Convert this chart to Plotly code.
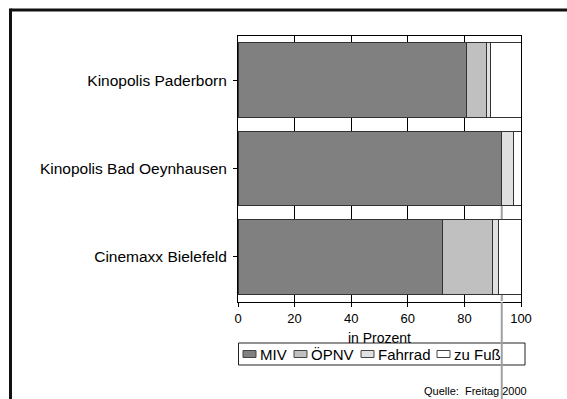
import plotly.graph_objects as go

# ---- data ----
categories = ["Kinopolis Paderborn", "Kinopolis Bad Oeynhausen", "Cinemaxx Bielefeld"]
series_names = ["MIV", "ÖPNV", "Fahrrad", "zu Fuß"]
miv = [80.7, 93.2, 72.1]
oepnv = [7.0, 0.0, 17.8]
fahrrad = [1.4, 4.2, 2.1]
zu_fuss = [10.9, 2.6, 8.0]
x_ticks = [0, 20, 40, 60, 80, 100]
x_title = "in Prozent"
source_text = "Quelle:  Freitag 2000"

series_values = [miv, oepnv, fahrrad, zu_fuss]
colors = ["#808080", "#c0c0c0", "#e0e0e0", "#ffffff"]

# ---- layout geometry (pixels) ----
W, H = 567, 399
L, R, T, B = 238, 46, 36, 97
PW, PH = W - L - R, H - T - B
BARGAP = 0.154
FONT = "Liberation Sans, Arial, sans-serif"


def px2x(px):
    return (px - L) / PW


def py2y(py):
    return (H - B - py) / PH


fig = go.Figure()
for name, vals, col in zip(series_names, series_values, colors):
    fig.add_trace(go.Bar(
        y=categories, x=vals, name=name, orientation="h",
        marker=dict(color=col, line=dict(color="#333333", width=1)),
        showlegend=False,
    ))

shapes = []
# outer frame (top and left)
shapes.append(dict(type="line", xref="paper", yref="paper",
                   x0=px2x(10.5), x1=px2x(W + 5), y0=py2y(10), y1=py2y(10),
                   line=dict(color="#111111", width=3), layer="above"))
shapes.append(dict(type="line", xref="paper", yref="paper",
                   x0=px2x(10.5), x1=px2x(10.5), y0=py2y(8.5), y1=py2y(H + 5),
                   line=dict(color="#111111", width=3), layer="above"))

# gray drop line below the Bad Oeynhausen bar
bar_bottom = 1 + (1 - BARGAP) / 2
shapes.append(dict(type="line", xref="x", yref="y",
                   x0=miv[1], x1=miv[1], y0=bar_bottom, y1=2.5,
                   line=dict(color="#a0a0a0", width=2), layer="below"))

# custom legend box
shapes.append(dict(type="rect", xref="paper", yref="paper",
                   x0=px2x(238.5), x1=px2x(525), y0=py2y(343), y1=py2y(365),
                   line=dict(color="#222222", width=1), fillcolor="white", layer="above"))
sym_x = [243, 294, 361, 437]
annotations = []
for sx, name, col in zip(sym_x, series_names, colors):
    shapes.append(dict(type="rect", xref="paper", yref="paper",
                       x0=px2x(sx), x1=px2x(sx + 13), y0=py2y(350.5), y1=py2y(357.5),
                       line=dict(color="#444444", width=1), fillcolor=col, layer="above"))
    annotations.append(dict(xref="paper", yref="paper", x=px2x(sx + 14.5), y=py2y(354.5),
                            xanchor="left", yanchor="middle", showarrow=False,
                            text=name, font=dict(family=FONT, size=15, color="black")))

shapes.append(dict(type="line", xref="x", yref="paper",
                   x0=miv[1], x1=miv[1], y0=0, y1=py2y(H + 5),
                   line=dict(color="#a0a0a0", width=2), layer="above"))

annotations.append(dict(xref="paper", yref="paper", x=px2x(529), y=py2y(390.5),
                        xanchor="right", yanchor="middle", showarrow=False,
                        text=source_text, font=dict(family=FONT, size=11, color="black")))

fig.update_layout(
    barmode="stack",
    bargap=BARGAP,
    width=W, height=H,
    margin=dict(l=L, r=R, t=T, b=B, pad=0),
    paper_bgcolor="white", plot_bgcolor="white",
    font=dict(family=FONT, color="black"),
    shapes=shapes,
    annotations=annotations,
    xaxis=dict(
        range=[0, 100], tickvals=x_ticks, ticktext=[str(v) for v in x_ticks],
        showgrid=True, gridcolor="black", gridwidth=1,
        showline=True, linecolor="black", linewidth=1, mirror=True,
        ticks="outside", ticklen=4, tickcolor="black", tickwidth=1,
        tickfont=dict(family=FONT, size=13, color="black"),
        title=dict(text=x_title, font=dict(family=FONT, size=14, color="black"), standoff=8),
        zeroline=False, fixedrange=True,
    ),
    yaxis=dict(
        type="category", autorange="reversed",
        showgrid=False,
        showline=True, linecolor="black", linewidth=1, mirror=True,
        ticks="outside", ticklen=4, tickcolor="black", tickwidth=1,
        tickfont=dict(family=FONT, size=15.5, color="black"),
        ticklabelstandoff=3,
        fixedrange=True,
    ),
)

fig.write_html("out.html")
